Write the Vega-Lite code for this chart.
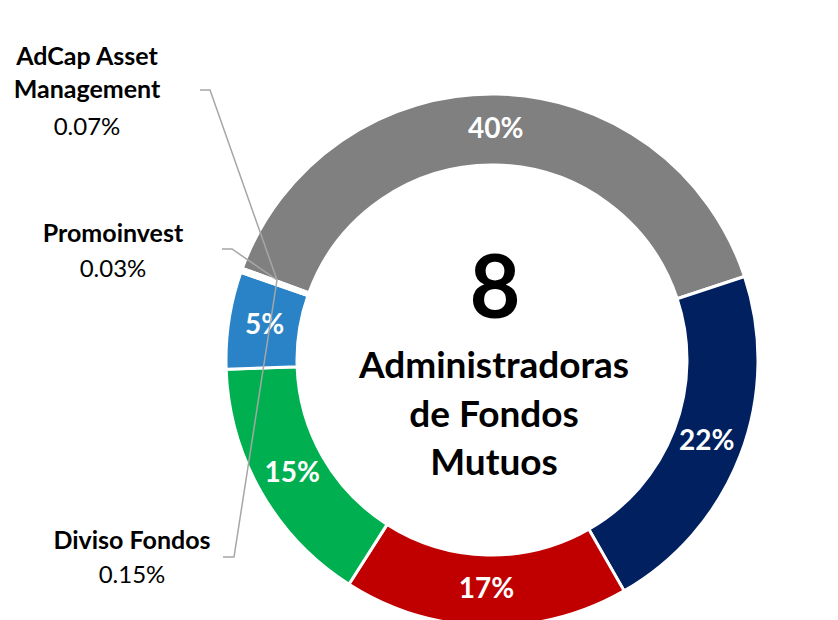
{
  "$schema": "https://vega.github.io/schema/vega-lite/v6.json",
  "autosize": {"type": "none"},
  "width": 692,
  "height": 520,
  "padding": {"left": 146, "top": 100, "right": 0, "bottom": 0},
  "background": "white",
  "config": {"view": {"stroke": null}, "font": "Lato"},
  "datasets": {
    "slices": [
      {"rank": 1, "name": "Otra 1", "share": 39.3, "label": "40%"},
      {"rank": 2, "name": "Otra 2", "share": 21.8, "label": "22%"},
      {"rank": 3, "name": "Otra 3", "share": 17.3, "label": "17%"},
      {"rank": 4, "name": "Otra 4", "share": 15.4, "label": "15%"},
      {"rank": 5, "name": "Otra 5", "share": 5.9, "label": "5%"},
      {"rank": 6, "name": "Diviso Fondos", "share": 0.15, "label": ""},
      {"rank": 7, "name": "Promoinvest", "share": 0.03, "label": ""},
      {"rank": 8, "name": "AdCap Asset Management", "share": 0.07, "label": ""}
    ],
    "callouts": [
      {"name": "AdCap Asset\nManagement", "pct": "0.07%", "cx": -405, "nameY": 295, "pctY": 225},
      {"name": "Promoinvest", "pct": "0.03%", "cx": -379, "nameY": 118, "pctY": 83},
      {"name": "Diviso Fondos", "pct": "0.15%", "cx": -360, "nameY": -189, "pctY": -223}
    ],
    "leaders": [
      {"who": "AdCap", "i": 1, "lx": -292, "ly": 270},
      {"who": "AdCap", "i": 2, "lx": -282, "ly": 270},
      {"who": "AdCap", "i": 3, "lx": -215, "ly": 80},
      {"who": "Promoinvest", "i": 1, "lx": -270, "ly": 111},
      {"who": "Promoinvest", "i": 2, "lx": -260, "ly": 111},
      {"who": "Promoinvest", "i": 3, "lx": -215, "ly": 80},
      {"who": "Diviso", "i": 1, "lx": -269, "ly": -197},
      {"who": "Diviso", "i": 2, "lx": -258, "ly": -197},
      {"who": "Diviso", "i": 3, "lx": -215, "ly": 80}
    ],
    "center": [
      {"big": "8", "title": "Administradoras\nde Fondos\nMutuos"}
    ]
  },
  "layer": [
    {
      "data": {"name": "slices"},
      "mark": {"type": "arc", "radius": 266, "radius2": 195, "stroke": "white", "strokeWidth": 3},
      "encoding": {
        "theta": {"field": "share", "type": "quantitative", "stack": true, "scale": {"range": [-1.2191, 5.0641]}},
        "order": {"field": "rank", "type": "quantitative"},
        "color": {
          "field": "name", "type": "nominal", "legend": null,
          "scale": {
            "domain": ["Otra 1", "Otra 2", "Otra 3", "Otra 4", "Otra 5", "Diviso Fondos", "Promoinvest", "AdCap Asset Management"],
            "range": ["#808080", "#002060", "#C00000", "#00B050", "#2983C6", "#A5A5A5", "#FFC000", "#5B9BD5"]
          }
        }
      }
    },
    {
      "data": {"name": "slices"},
      "mark": {"type": "text", "radius": 230, "font": "Lato", "fontWeight": "bold", "fontSize": 28, "fill": "white", "align": "center", "baseline": "middle"},
      "encoding": {
        "theta": {"field": "share", "type": "quantitative", "stack": true},
        "order": {"field": "rank", "type": "quantitative"},
        "text": {"field": "label"}
      }
    },
    {
      "data": {"name": "leaders"},
      "mark": {"type": "line", "stroke": "#A6A6A6", "strokeWidth": 1.5},
      "encoding": {
        "x": {"field": "lx", "type": "quantitative", "axis": null, "scale": {"domain": [-346, 346], "nice": false, "zero": false}},
        "y": {"field": "ly", "type": "quantitative", "axis": null, "scale": {"domain": [-260, 260], "nice": false, "zero": false}},
        "detail": {"field": "who"},
        "order": {"field": "i", "type": "quantitative"}
      }
    },
    {
      "data": {"name": "callouts"},
      "mark": {"type": "text", "font": "Lato", "fontWeight": "bold", "fontSize": 25, "fill": "black", "align": "center", "baseline": "alphabetic", "lineBreak": "\n", "lineHeight": 33},
      "encoding": {
        "x": {"field": "cx", "type": "quantitative", "axis": null},
        "y": {"field": "nameY", "type": "quantitative", "axis": null},
        "text": {"field": "name"}
      }
    },
    {
      "data": {"name": "callouts"},
      "mark": {"type": "text", "font": "Lato", "fontSize": 24, "fill": "black", "align": "center", "baseline": "alphabetic"},
      "encoding": {
        "x": {"field": "cx", "type": "quantitative", "axis": null},
        "y": {"field": "pctY", "type": "quantitative", "axis": null},
        "text": {"field": "pct"}
      }
    },
    {
      "data": {"name": "center"},
      "mark": {"type": "text", "font": "Lato", "fontWeight": "bold", "fontSize": 88, "fill": "black", "align": "center", "baseline": "alphabetic", "dx": 3, "dy": -42},
      "encoding": {"text": {"field": "big"}}
    },
    {
      "data": {"name": "center"},
      "mark": {"type": "text", "font": "Lato", "fontWeight": "bold", "fontSize": 37, "fill": "black", "align": "center", "baseline": "alphabetic", "dx": 2, "dy": 18, "lineBreak": "\n", "lineHeight": 48.5},
      "encoding": {"text": {"field": "title"}}
    }
  ]
}
